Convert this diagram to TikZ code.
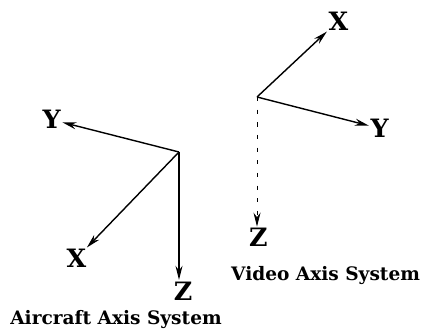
\documentclass[tikz,border=0pt]{standalone}
\usepackage{fontspec}
\setmainfont{DejaVu Serif}
\usetikzlibrary{arrows.meta}
\tikzset{lbl/.style = {font=\bfseries\fontsize{18}{20}\selectfont, inner sep=1pt},
    ttl/.style = {font=\bfseries\fontsize{13.2}{15}\selectfont, inner sep=0pt, anchor=base},
    ax/.style  = {->, line width=1pt},
    dz/.style  = {->, line width=0.6pt, dash pattern=on 3pt off 6pt}}

\begin{document}
\begin{tikzpicture}[>={Stealth[length=10pt,width=5pt]}]
        \useasboundingbox (0,0) rectangle (10.6,8.25);
        % aircraft axes
        \coordinate (ao) at (4.475,4.45);
        \node[lbl] (ay) at (1.29,5.26) {Y};
        \node[lbl] (ax) at (1.91,1.79) {X};
        \node[lbl] (az) at (4.58,0.98) {Z};
        \node[ttl] (at) at (2.9,0.14) {Aircraft Axis System};

        \draw[ax] (ao) -- (ay);
        \draw[ax] (ao) -- (ax);
        \draw[ax] (ao) -- (ao |- az.north);

        % video axes
        \coordinate (vo) at (6.425,5.825);
        \foreach \n/\x/\y/\t in {vx/8.46/7.73/X, vy/9.49/5.04/Y, vz/6.46/2.31/Z}
            \node[lbl] (\n) at (\x,\y) {\t};
        \node[ttl] (vt) at (8.14,1.25) {Video Axis System};

        \draw[ax] (vo) -- (vx);
        \draw[ax] (vo) -- (vy);
        \draw[dz] (vo) -- (vo |- vz.north);
    \end{tikzpicture}
\end{document}
